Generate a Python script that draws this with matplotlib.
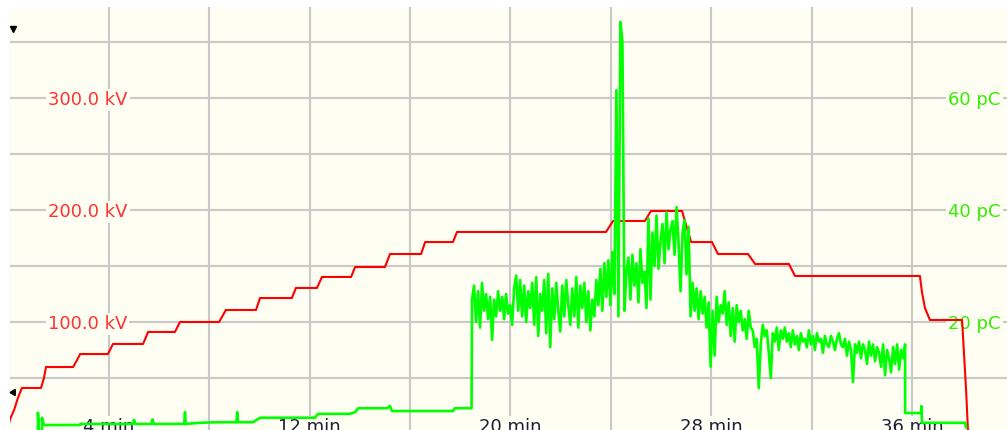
import numpy as np
import matplotlib
matplotlib.use("Agg")
import matplotlib.pyplot as plt

# test voltage (kV) over time (min), stepped ramp up and down
volt_t = [0.0, 0.06, 0.22, 0.37, 0.53, 1.29, 1.41, 1.49, 2.57, 2.73, 2.85, 3.96, 4.16,
          5.36, 5.56, 6.63, 6.83, 8.39, 8.66, 9.86, 10.02, 11.29, 11.45, 12.29, 12.49,
          13.65, 13.81, 15.00, 15.20, 16.44, 16.60, 17.71, 17.87, 23.81, 24.09, 25.36,
          25.60, 26.84, 27.00, 27.20, 28.03, 28.27, 29.47, 29.75, 31.10, 31.34, 36.32,
          36.40, 36.52, 36.72, 38.00, 38.08, 38.16, 38.24]
volt_kv = [8.0, 13.4, 21.4, 32.1, 41.1, 41.1, 50.0, 59.8, 59.8, 66.1, 71.4, 71.4, 80.4,
           80.4, 91.1, 91.1, 100.0, 100.0, 110.7, 110.7, 121.4, 121.4, 130.4, 130.4, 140.2,
           140.2, 149.1, 149.1, 160.7, 160.7, 171.4, 171.4, 180.4, 180.4, 190.2, 190.2,
           199.1, 199.1, 186.6, 171.4, 171.4, 160.7, 160.7, 151.8, 151.8, 141.1, 141.1,
           126.8, 112.5, 101.8, 101.8, 70.5, 39.3, 0.0]

# partial discharge (pC): quiet start
pd_start_t = [1.17, 1.17, 1.21, 1.33, 1.33, 1.41, 2.85, 2.87, 4.95, 5.00, 5.05, 5.70, 5.74,
              5.78, 7.00, 7.03, 7.06, 7.60, 8.30, 9.08, 9.11, 9.14, 9.74, 10.02, 12.21,
              12.33, 13.60, 13.81, 13.93, 15.08, 15.20, 15.28, 17.71, 17.79, 18.45]
pd_start_pc = [0.0, 3.8, 0.5, 0.5, 2.9, 1.6, 1.6, 1.8, 1.8, 2.5, 1.8, 1.8, 2.6,
               1.8, 1.8, 3.9, 1.8, 2.0, 2.1, 2.1, 3.9, 2.1, 2.1, 2.9, 2.9,
               3.6, 3.6, 3.9, 4.6, 4.6, 5.0, 4.1, 4.1, 4.6, 4.6]

# partial discharge (pC): active phase, one reading every ~0.08 min
pd_active_range = (18.47, 35.73)
pd_active_pc = [
    24.0, 26.5, 20.0, 25.5, 19.0, 27.0, 22.0, 25.0, 20.5, 24.5,
    16.8, 24.0, 21.0, 25.5, 22.0, 24.5, 20.5, 25.0, 21.5, 23.0,
    19.5, 26.0, 28.3, 22.0, 27.5, 21.0, 26.5, 20.0, 25.5, 22.5,
    27.0, 19.5, 28.0, 17.5, 25.0, 22.0, 27.5, 18.0, 28.6, 15.5,
    26.0, 20.5, 27.0, 22.0, 18.3, 26.5, 21.0, 27.5, 23.0, 19.5,
    26.0, 21.0, 28.0, 19.0, 26.5, 22.5, 27.0, 20.0, 25.5, 18.5,
    24.0, 21.0, 27.5, 23.0, 29.5, 22.0, 30.5, 24.5, 31.0, 23.0,
    32.5, 25.0, 61.4, 21.0, 73.6, 70.0, 22.0, 29.0, 31.5, 24.0,
    32.0, 26.5, 30.5, 23.5, 33.0, 27.0, 29.0, 22.5, 38.5, 24.0,
    36.0, 30.0, 39.0, 29.5, 34.5, 37.5, 30.5, 39.6, 33.0, 36.5,
    38.0, 32.0, 40.5, 34.0, 25.5, 36.0, 38.2, 28.5, 37.0, 21.0,
    27.0, 22.0, 26.0, 20.5, 25.5, 21.5, 24.5, 19.0, 23.5, 12.0,
    22.0, 14.0, 24.5, 20.0, 23.0, 21.5, 25.5, 19.5, 23.5, 17.5,
    22.5, 16.5, 23.0, 20.0, 22.0, 18.5, 20.5, 17.0, 22.0, 19.0,
    18.5, 15.5, 17.0, 8.2, 16.0, 19.5, 17.5, 18.5, 14.5, 10.0,
    18.0, 16.5, 19.0, 15.0, 18.5, 17.0, 19.0, 16.5, 18.0, 15.5,
    18.5, 16.0, 17.5, 15.0, 18.0, 16.5, 17.0, 15.5, 18.5, 16.0,
    17.5, 15.0, 18.0, 16.5, 17.0, 14.5, 17.5, 16.0, 15.5, 17.5,
    16.5, 15.0, 17.0, 18.0, 16.0, 15.5, 17.0, 14.0, 16.5, 15.0,
    9.3, 16.0, 14.5, 16.5, 13.5, 16.0, 15.0, 12.5, 16.5, 14.0,
    16.0, 13.0, 15.5, 14.5, 12.0, 16.0, 10.5, 15.0, 13.5, 11.0,
    15.5, 12.5, 16.0, 11.5, 15.0, 13.5, 16.0,
]

# partial discharge (pC): after voltage reduction
pd_end_t = [35.73, 36.36, 36.38, 36.40, 38.12, 38.16]
pd_end_pc = [3.75, 3.75, 5.0, 2.0, 2.0, 1.2]

kv_ticks = [100, 200, 300]
pc_ticks = [20, 40, 60]
min_ticks = [4, 12, 20, 28, 36]

# instrument trigger levels shown as small markers on the left edge
level_kv = [362, 37.5]

BG = "#FFFEF2"
GRID = "#C8C8C8"
RED = "#FF0000"
GREEN = "#00FF00"

pd_active_t = np.linspace(pd_active_range[0], pd_active_range[1], len(pd_active_pc))
pd_t = np.concatenate([pd_start_t, pd_active_t, pd_end_t])
pd_pc = np.concatenate([pd_start_pc, pd_active_pc, pd_end_pc])

fig = plt.figure(figsize=(10.07, 4.30), dpi=100, facecolor="white")
ax = fig.add_axes([10 / 1007, 0, 997 / 1007, 423 / 430])
ax.set_facecolor(BG)

kv_lo, kv_hi = 3.57, 381.25
ax.set_xlim(0.056, 39.79)
ax.set_ylim(kv_lo, kv_hi)

for x in range(0, 40, 4):
    ax.axvline(x, color=GRID, lw=1.5, zorder=1)
for y in range(50, 400, 50):
    ax.axhline(y, color=GRID, lw=1.5, zorder=1)

ax.plot(volt_t, volt_kv, color=RED, lw=1.5, zorder=4)

lab = dict(fontsize=13, family="DejaVu Sans", zorder=3,
           bbox=dict(boxstyle="square,pad=0.12", fc=BG, ec="none"))
ytr = ax.get_yaxis_transform()
xtr = ax.get_xaxis_transform()
for v in kv_ticks:
    ax.text(0.038, v, f"{v:.1f} kV", color="#FF3333", ha="left",
            va="center_baseline", transform=ytr, **lab)
for v in pc_ticks:
    ax.text(0.941, v * 5, f"{v} pC", color="#33EE00", ha="left",
            va="center_baseline", transform=ytr, **lab)
for m in min_ticks:
    ax.text(m, -0.004, f"{m} min", color="#1C1C3C", ha="center",
            va="baseline", transform=xtr, **lab)

ax.plot([0.003], [level_kv[0]], marker="v", ms=5, color="black",
        transform=ytr, clip_on=False, zorder=6)
ax.plot([0.003], [level_kv[1]], marker=(3, 0, -30), ms=5, color="black",
        transform=ytr, clip_on=False, zorder=6)

for s in ax.spines.values():
    s.set_visible(False)
ax.set_xticks([])
ax.set_yticks([])

ax2 = ax.twinx()
ax2.set_ylim(kv_lo / 5, kv_hi / 5)
ax2.plot(pd_t, pd_pc, color=GREEN, lw=1.9, zorder=5)
for s in ax2.spines.values():
    s.set_visible(False)
ax2.set_yticks([])

fig.savefig("out.png", dpi=100, facecolor="white")
